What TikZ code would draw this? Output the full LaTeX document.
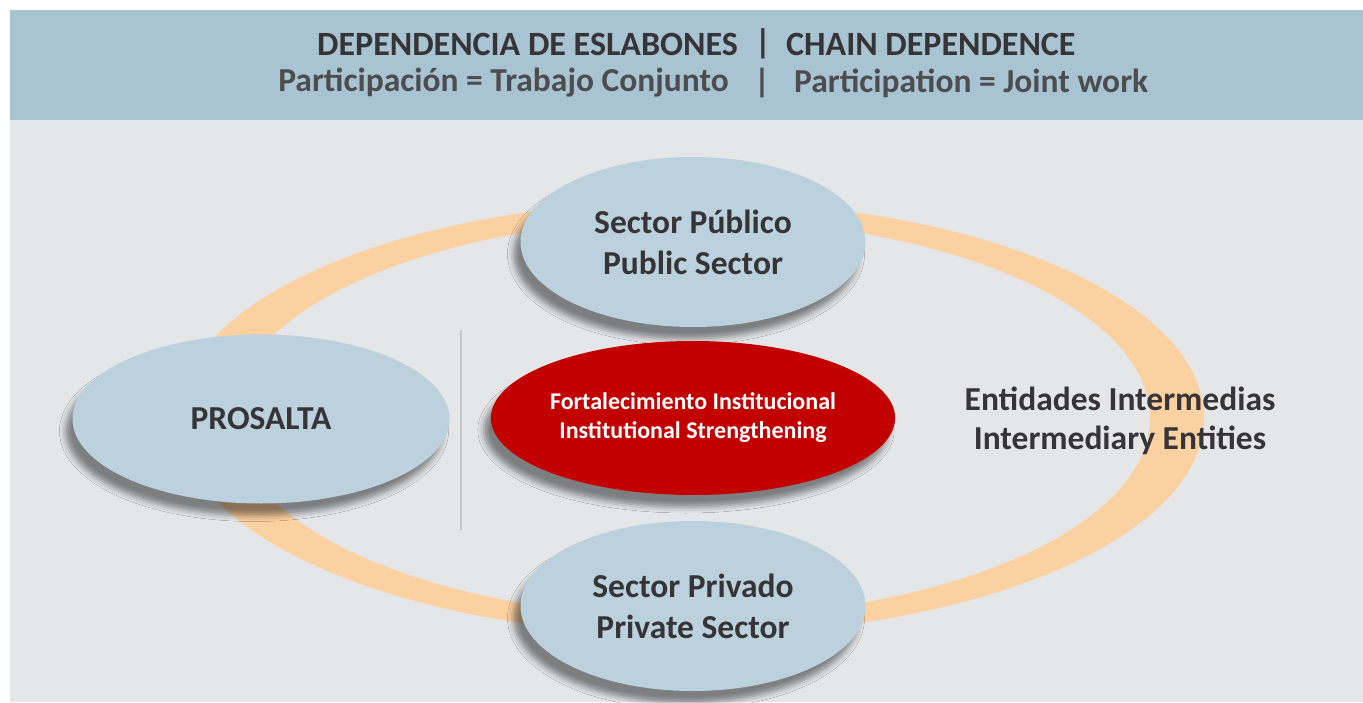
\documentclass[tikz,border=0pt]{standalone}
\usepackage{fontspec}
\setmainfont{Carlito}
\usetikzlibrary{shapes.geometric,shadows.blur}
\definecolor{headbg}{HTML}{A8C4D2}
\definecolor{bodybg}{HTML}{E5E6E8}
\definecolor{ringc}{HTML}{FCD1A2}
\definecolor{bluee}{HTML}{BBD2DE}
\definecolor{rede}{HTML}{C30000}
\definecolor{txtdark}{HTML}{363436}
\definecolor{txtgray}{HTML}{4D4D4F}
\definecolor{sepline}{HTML}{C6C7C9}
\begin{document}
\begin{tikzpicture}[x=1pt,y=-1pt,
  shade/.style={blur shadow={shadow xshift=-7pt, shadow yshift=-12pt, shadow blur radius=6pt, shadow opacity=45}},
  bubble/.style={ellipse, inner sep=0pt, fill=bluee, text=txtdark, align=center,
    font=\bfseries\fontsize{33.5}{41}\selectfont, shade},
  redbubble/.style={ellipse, inner sep=0pt, fill=rede, text=white, align=center,
    font=\bfseries\fontsize{24}{29}\selectfont, shade},
  headA/.style={font=\bfseries\fontsize{34}{34}\selectfont, text=txtdark, inner sep=0pt},
  headB/.style={font=\bfseries\fontsize{33.5}{34}\selectfont, text=txtgray, inner sep=0pt},
  side/.style={font=\bfseries\fontsize{33.5}{39}\selectfont, text=txtdark, align=center, inner sep=0pt}]
\useasboundingbox (0,0) rectangle (1363,703);
\fill[white] (0,0) rectangle (1363,703);
\fill[bodybg] (10,120) rectangle (1363,702);
\fill[headbg] (10,10) rectangle (1363,120);
% header
\node[headA, anchor=east] (h1a) at (738,44) {DEPENDENCIA DE ESLABONES};
\node[headA] (h1b) at (763,44) {|};
\node[headA, anchor=west] (h1c) at (786,44) {CHAIN DEPENDENCE};
\node[headB, anchor=east] (h2a) at (729,83) {Participación = Trabajo Conjunto};
\node[headB] (h2b) at (762,83) {|};
\node[headB, anchor=west] (h2c) at (794,83) {Participation = Joint work};
% ring
\fill[ringc, even odd rule] (691,418) ellipse [x radius=513pt, y radius=217pt]
  (691,418) ellipse [x radius=459pt, y radius=199pt];
% separator
\coordinate (s1) at (461,330);
\coordinate (s2) at (461,530);
\draw[sepline, line width=1.5pt] (s1) -- (s2);
% bubbles
\node[bubble, minimum width=345pt, minimum height=170pt] (pub) at (693,242) {Sector Público\\Public Sector};
\node[bubble, minimum width=377pt, minimum height=169pt] (pro) at (261,419) {PROSALTA};
\node[bubble, minimum width=345pt, minimum height=170pt] (priv) at (693,606) {Sector Privado\\Private Sector};
\node[redbubble, minimum width=396pt, minimum height=154pt] (fi) at (693,418) {Fortalecimiento Institucional\\Institutional Strengthening};
\node[side] (ent) at (1120,421) {Entidades Intermedias\\Intermediary Entities};
\end{tikzpicture}
\end{document}
